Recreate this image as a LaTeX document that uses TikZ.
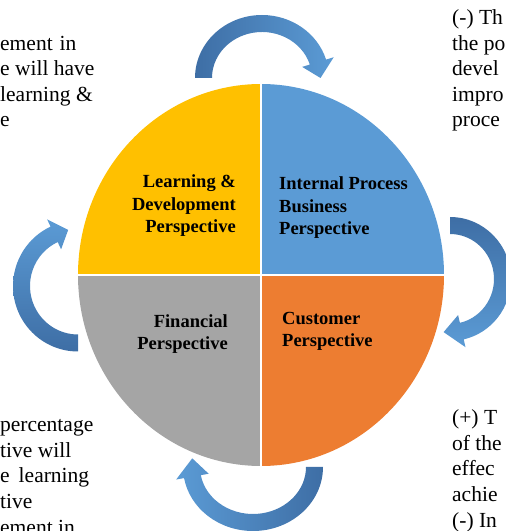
\documentclass[tikz,border=0pt]{standalone}
\usepackage{fontspec}
\setmainfont{Liberation Serif}
\usetikzlibrary{calc}

\definecolor{lyellow}{HTML}{FFC000}
\definecolor{lblue}{HTML}{5B9BD5}
\definecolor{lorange}{HTML}{ED7D31}
\definecolor{lgrey}{HTML}{A5A5A5}
\definecolor{arrowdark}{RGB}{62,110,165}
\definecolor{arrowlight}{RGB}{91,155,213}

% bent block arrow: centre, outer x/y radius, start, end and tip angle, shading
\newcommand{\bentarrow}[7]{%
  \shade[#7] ($(#1)+(#4:#2 and #3)$)
    arc[start angle=#4, end angle=#5, x radius=#2, y radius=#3]
    -- ($(#1)+(#5:#2+8 and #3+8)$)
    -- ($(#1)+(#6:#2-8.5 and #3-8.5)$)
    -- ($(#1)+(#5:#2-25 and #3-25)$)
    -- ($(#1)+(#5:#2-17 and #3-17)$)
    arc[start angle=#5, end angle=#4, x radius=#2-17, y radius=#3-17]
    -- cycle;}

\tikzset{
  sidetext/.style={font=\fontsize{21.5}{25.6}\selectfont, anchor=base west, inner sep=0pt, align=left},
  quadtext/.style={font=\fontsize{18.5}{22.5}\selectfont\bfseries, inner sep=0pt},
}

\begin{document}
\begin{tikzpicture}[x=1pt,y=1pt]
  \useasboundingbox (0,0) rectangle (506,531);
  \clip (0,0) rectangle (506,531);

  \coordinate (O) at (261,256); % centre of the disc

  % the four quarters
  \fill[lyellow] (O) -- ++(90:183 and 191) arc[start angle=90, end angle=180, x radius=183, y radius=191] -- cycle;
  \fill[lblue] (O) -- ++(0:183 and 191) arc[start angle=0, end angle=90, x radius=183, y radius=191] -- cycle;
  \fill[lorange] (O) -- ++(270:183 and 191) arc[start angle=270, end angle=360, x radius=183, y radius=191] -- cycle;
  \fill[lgrey] (O) -- ++(180:183 and 191) arc[start angle=180, end angle=270, x radius=183, y radius=191] -- cycle;
  \draw[white, line width=2.5pt] (O) ++(0,192) -- ++(0,-384);
  \draw[white, line width=2.5pt] (O) ++(-184,0) -- ++(368,0);

  % arrows round the disc
  \coordinate (TA) at (262,453);
  \coordinate (RA) at (450,252);
  \coordinate (BA) at (253,64);
  \coordinate (LA) at (78,245);
  \bentarrow{TA}{67}{63}{180}{17}{0}{left color=arrowdark, right color=arrowlight}
  \bentarrow{RA}{61}{62}{90}{-77}{-97}{top color=arrowdark, bottom color=arrowlight}
  \bentarrow{BA}{70}{64}{0}{-170}{-189}{left color=arrowlight, right color=arrowdark}
  \bentarrow{LA}{65}{65.5}{-90}{-245}{-260}{top color=arrowlight, bottom color=arrowdark}

  % quarter labels (anchored on the baseline of the last line)
  \node[quadtext, anchor=base east, align=right] (ld) at (236,298) {Learning \&\\Development\\Perspective};
  \node[quadtext, anchor=base west, align=left] (ip) at (279,296) {Internal Process\\Business\\Perspective};
  \node[quadtext, anchor=base east, align=right] (fin) at (228,181) {Financial\\Perspective};
  \node[quadtext, anchor=base west, align=left] (cus) at (282,184) {Customer\\Perspective};

  % notes beside the disc
  \node[sidetext] (tl) at (0,404) {ement\hspace{7pt}in\\e will have\\learning \&\\e};
  \node[sidetext] (tr) at (452,404) {(-) Th\\the po\\devel\\impro\\proce};
  \node[sidetext] (bl) at (0,-3) {percentage\\tive will\\e\hspace{9pt}learning\\tive\\ement in};
  \node[sidetext] (br) at (452,4) {(+) T\\of the\\effec\\achie\\(-) In};
\end{tikzpicture}
\end{document}
